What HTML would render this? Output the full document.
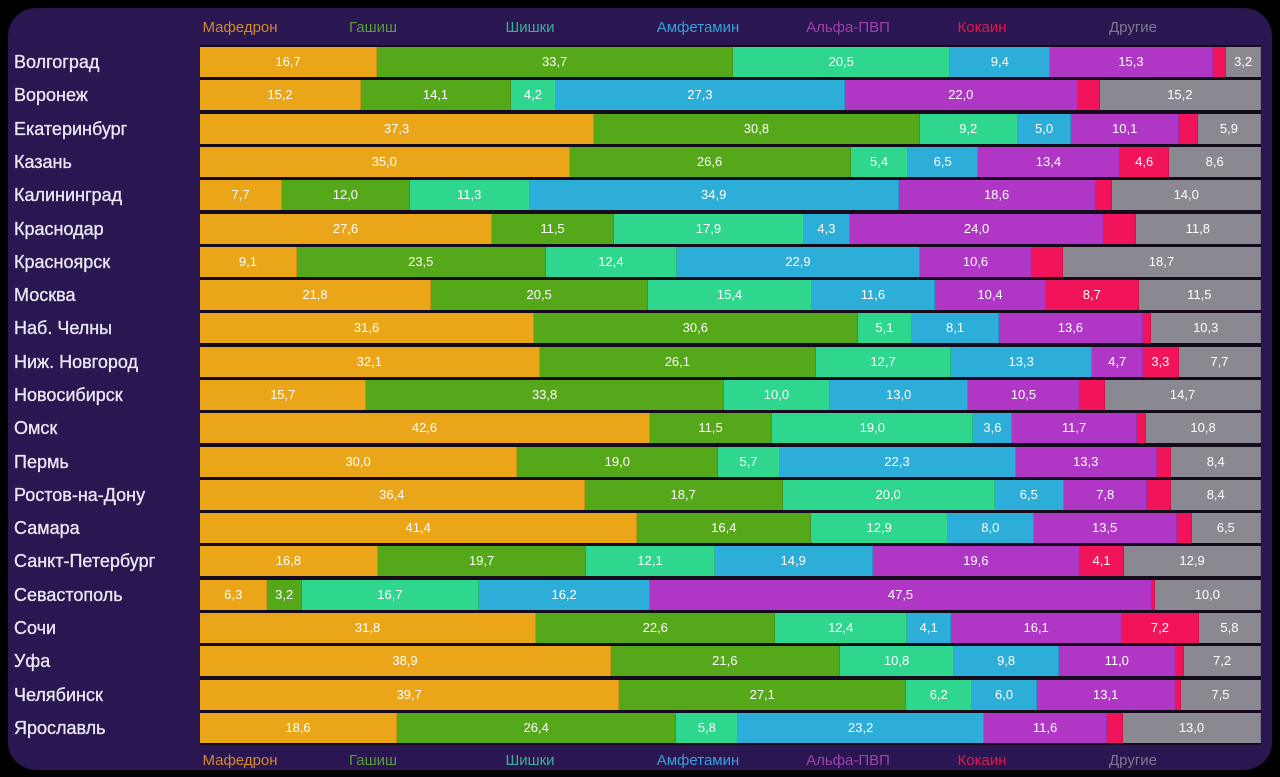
<!DOCTYPE html>
<html><head><meta charset="utf-8"><style>
body{margin:0;width:1280px;height:777px;background:#000;overflow:hidden;font-family:"Liberation Sans","DejaVu Sans",sans-serif}
.panel{position:absolute;left:8px;top:8px;width:1264px;height:762px;background:#2a1650;border-radius:28px}
.strip{position:absolute;left:200px;top:45px;width:1061px;height:700px;background:#140c1c}
.lg{position:absolute;font-size:15px;transform:translateX(-50%)}
.city{position:absolute;left:14px;font-size:18px;color:#ece8f4;height:30px;line-height:30px;-webkit-text-stroke:0.3px #ece8f4}
.row{position:absolute;left:200px;width:1061px;height:30px;display:flex}
.row div{height:30px;line-height:30px;text-align:center;color:#fff;font-size:13px;overflow:hidden;white-space:nowrap;border-right:1px solid rgba(0,0,0,.12)}
.a{background:#eaa618}.b{background:#55a819}.c{background:#2ed68e}.d{background:#2caed8}.e{background:#b036c6}.f{background:#f2145a}.g{background:#8a8890}
</style></head><body><div class="panel"></div><div class="strip"></div>
<div class="lg" style="left:240px;top:19px;color:#d08a30">Мафедрон</div>
<div class="lg" style="left:373px;top:19px;color:#5c9a3a">Гашиш</div>
<div class="lg" style="left:530px;top:19px;color:#3ab098">Шишки</div>
<div class="lg" style="left:698px;top:19px;color:#3aa0d8">Амфетамин</div>
<div class="lg" style="left:848px;top:19px;color:#a040b0">Альфа-ПВП</div>
<div class="lg" style="left:982px;top:19px;color:#e01850">Кокаин</div>
<div class="lg" style="left:1133px;top:19px;color:#7c7890">Другие</div>
<div class="lg" style="left:240px;top:752px;color:#d08a30">Мафедрон</div>
<div class="lg" style="left:373px;top:752px;color:#5c9a3a">Гашиш</div>
<div class="lg" style="left:530px;top:752px;color:#3ab098">Шишки</div>
<div class="lg" style="left:698px;top:752px;color:#3aa0d8">Амфетамин</div>
<div class="lg" style="left:848px;top:752px;color:#a040b0">Альфа-ПВП</div>
<div class="lg" style="left:982px;top:752px;color:#e01850">Кокаин</div>
<div class="lg" style="left:1133px;top:752px;color:#7c7890">Другие</div>

<div class="city" style="top:47px">Волгоград</div>
<div class="row" style="top:47px"><div class="a" style="flex:16.7">16,7</div><div class="b" style="flex:33.7">33,7</div><div class="c" style="flex:20.5">20,5</div><div class="d" style="flex:9.4">9,4</div><div class="e" style="flex:15.3">15,3</div><div class="f" style="flex:1.2"></div><div class="g" style="flex:3.2">3,2</div></div>
<div class="city" style="top:80px">Воронеж</div>
<div class="row" style="top:80px"><div class="a" style="flex:15.2">15,2</div><div class="b" style="flex:14.1">14,1</div><div class="c" style="flex:4.2">4,2</div><div class="d" style="flex:27.3">27,3</div><div class="e" style="flex:22">22,0</div><div class="f" style="flex:2"></div><div class="g" style="flex:15.2">15,2</div></div>
<div class="city" style="top:114px">Екатеринбург</div>
<div class="row" style="top:114px"><div class="a" style="flex:37.3">37,3</div><div class="b" style="flex:30.8">30,8</div><div class="c" style="flex:9.2">9,2</div><div class="d" style="flex:5">5,0</div><div class="e" style="flex:10.1">10,1</div><div class="f" style="flex:1.7"></div><div class="g" style="flex:5.9">5,9</div></div>
<div class="city" style="top:147px">Казань</div>
<div class="row" style="top:147px"><div class="a" style="flex:35">35,0</div><div class="b" style="flex:26.6">26,6</div><div class="c" style="flex:5.4">5,4</div><div class="d" style="flex:6.5">6,5</div><div class="e" style="flex:13.4">13,4</div><div class="f" style="flex:4.6">4,6</div><div class="g" style="flex:8.6">8,6</div></div>
<div class="city" style="top:180px">Калининград</div>
<div class="row" style="top:180px"><div class="a" style="flex:7.7">7,7</div><div class="b" style="flex:12">12,0</div><div class="c" style="flex:11.3">11,3</div><div class="d" style="flex:34.9">34,9</div><div class="e" style="flex:18.6">18,6</div><div class="f" style="flex:1.5"></div><div class="g" style="flex:14">14,0</div></div>
<div class="city" style="top:214px">Краснодар</div>
<div class="row" style="top:214px"><div class="a" style="flex:27.6">27,6</div><div class="b" style="flex:11.5">11,5</div><div class="c" style="flex:17.9">17,9</div><div class="d" style="flex:4.3">4,3</div><div class="e" style="flex:24">24,0</div><div class="f" style="flex:2.9"></div><div class="g" style="flex:11.8">11,8</div></div>
<div class="city" style="top:247px">Красноярск</div>
<div class="row" style="top:247px"><div class="a" style="flex:9.1">9,1</div><div class="b" style="flex:23.5">23,5</div><div class="c" style="flex:12.4">12,4</div><div class="d" style="flex:22.9">22,9</div><div class="e" style="flex:10.6">10,6</div><div class="f" style="flex:2.8"></div><div class="g" style="flex:18.7">18,7</div></div>
<div class="city" style="top:280px">Москва</div>
<div class="row" style="top:280px"><div class="a" style="flex:21.8">21,8</div><div class="b" style="flex:20.5">20,5</div><div class="c" style="flex:15.4">15,4</div><div class="d" style="flex:11.6">11,6</div><div class="e" style="flex:10.4">10,4</div><div class="f" style="flex:8.7">8,7</div><div class="g" style="flex:11.5">11,5</div></div>
<div class="city" style="top:313px">Наб. Челны</div>
<div class="row" style="top:313px"><div class="a" style="flex:31.6">31,6</div><div class="b" style="flex:30.6">30,6</div><div class="c" style="flex:5.1">5,1</div><div class="d" style="flex:8.1">8,1</div><div class="e" style="flex:13.6">13,6</div><div class="f" style="flex:0.7"></div><div class="g" style="flex:10.3">10,3</div></div>
<div class="city" style="top:347px">Ниж. Новгород</div>
<div class="row" style="top:347px"><div class="a" style="flex:32.1">32,1</div><div class="b" style="flex:26.1">26,1</div><div class="c" style="flex:12.7">12,7</div><div class="d" style="flex:13.3">13,3</div><div class="e" style="flex:4.7">4,7</div><div class="f" style="flex:3.3">3,3</div><div class="g" style="flex:7.7">7,7</div></div>
<div class="city" style="top:380px">Новосибирск</div>
<div class="row" style="top:380px"><div class="a" style="flex:15.7">15,7</div><div class="b" style="flex:33.8">33,8</div><div class="c" style="flex:10">10,0</div><div class="d" style="flex:13">13,0</div><div class="e" style="flex:10.5">10,5</div><div class="f" style="flex:2.3"></div><div class="g" style="flex:14.7">14,7</div></div>
<div class="city" style="top:413px">Омск</div>
<div class="row" style="top:413px"><div class="a" style="flex:42.6">42,6</div><div class="b" style="flex:11.5">11,5</div><div class="c" style="flex:19">19,0</div><div class="d" style="flex:3.6">3,6</div><div class="e" style="flex:11.7">11,7</div><div class="f" style="flex:0.8"></div><div class="g" style="flex:10.8">10,8</div></div>
<div class="city" style="top:447px">Пермь</div>
<div class="row" style="top:447px"><div class="a" style="flex:30">30,0</div><div class="b" style="flex:19">19,0</div><div class="c" style="flex:5.7">5,7</div><div class="d" style="flex:22.3">22,3</div><div class="e" style="flex:13.3">13,3</div><div class="f" style="flex:1.3"></div><div class="g" style="flex:8.4">8,4</div></div>
<div class="city" style="top:480px">Ростов-на-Дону</div>
<div class="row" style="top:480px"><div class="a" style="flex:36.4">36,4</div><div class="b" style="flex:18.7">18,7</div><div class="c" style="flex:20">20,0</div><div class="d" style="flex:6.5">6,5</div><div class="e" style="flex:7.8">7,8</div><div class="f" style="flex:2.2"></div><div class="g" style="flex:8.4">8,4</div></div>
<div class="city" style="top:513px">Самара</div>
<div class="row" style="top:513px"><div class="a" style="flex:41.4">41,4</div><div class="b" style="flex:16.4">16,4</div><div class="c" style="flex:12.9">12,9</div><div class="d" style="flex:8">8,0</div><div class="e" style="flex:13.5">13,5</div><div class="f" style="flex:1.3"></div><div class="g" style="flex:6.5">6,5</div></div>
<div class="city" style="top:546px">Санкт-Петербург</div>
<div class="row" style="top:546px"><div class="a" style="flex:16.8">16,8</div><div class="b" style="flex:19.7">19,7</div><div class="c" style="flex:12.1">12,1</div><div class="d" style="flex:14.9">14,9</div><div class="e" style="flex:19.6">19,6</div><div class="f" style="flex:4.1">4,1</div><div class="g" style="flex:12.9">12,9</div></div>
<div class="city" style="top:580px">Севастополь</div>
<div class="row" style="top:580px"><div class="a" style="flex:6.3">6,3</div><div class="b" style="flex:3.2">3,2</div><div class="c" style="flex:16.7">16,7</div><div class="d" style="flex:16.2">16,2</div><div class="e" style="flex:47.5">47,5</div><div class="f" style="flex:0.2"></div><div class="g" style="flex:10">10,0</div></div>
<div class="city" style="top:613px">Сочи</div>
<div class="row" style="top:613px"><div class="a" style="flex:31.8">31,8</div><div class="b" style="flex:22.6">22,6</div><div class="c" style="flex:12.4">12,4</div><div class="d" style="flex:4.1">4,1</div><div class="e" style="flex:16.1">16,1</div><div class="f" style="flex:7.2">7,2</div><div class="g" style="flex:5.8">5,8</div></div>
<div class="city" style="top:646px">Уфа</div>
<div class="row" style="top:646px"><div class="a" style="flex:38.9">38,9</div><div class="b" style="flex:21.6">21,6</div><div class="c" style="flex:10.8">10,8</div><div class="d" style="flex:9.8">9,8</div><div class="e" style="flex:11">11,0</div><div class="f" style="flex:0.7"></div><div class="g" style="flex:7.2">7,2</div></div>
<div class="city" style="top:680px">Челябинск</div>
<div class="row" style="top:680px"><div class="a" style="flex:39.7">39,7</div><div class="b" style="flex:27.1">27,1</div><div class="c" style="flex:6.2">6,2</div><div class="d" style="flex:6">6,0</div><div class="e" style="flex:13.1">13,1</div><div class="f" style="flex:0.4"></div><div class="g" style="flex:7.5">7,5</div></div>
<div class="city" style="top:713px">Ярославль</div>
<div class="row" style="top:713px"><div class="a" style="flex:18.6">18,6</div><div class="b" style="flex:26.4">26,4</div><div class="c" style="flex:5.8">5,8</div><div class="d" style="flex:23.2">23,2</div><div class="e" style="flex:11.6">11,6</div><div class="f" style="flex:1.4"></div><div class="g" style="flex:13">13,0</div></div>
</body></html>
